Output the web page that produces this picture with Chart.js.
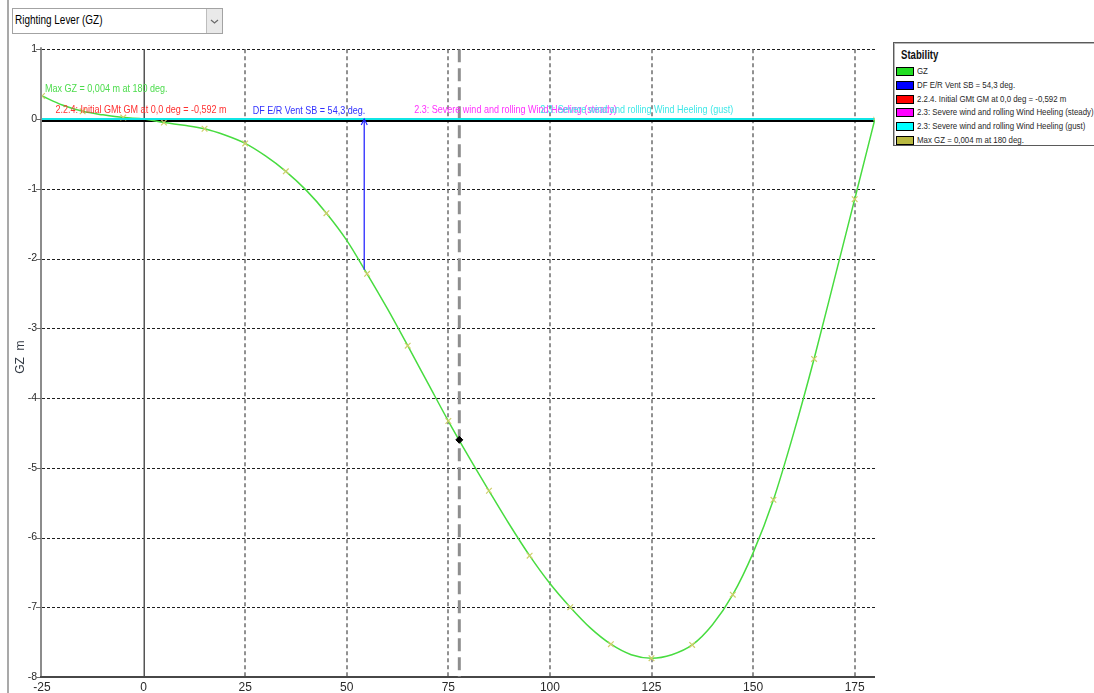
<!DOCTYPE html>
<html>
<head>
<meta charset="utf-8">
<title>Righting Lever (GZ)</title>
<script src="https://cdn.jsdelivr.net/npm/chart.js@4.4.0/dist/chart.umd.min.js"></script>
<style>
  html, body { margin: 0; padding: 0; background: #fff; width: 1094px; height: 693px; overflow: hidden; }
  #wrap { position: relative; width: 1094px; height: 693px; }
  #frame { position: absolute; left: 7px; top: 0; width: 2px; height: 693px; background: #a9a9a9; }
  #combo { position: absolute; left: 12px; top: 8px; width: 209px; height: 24px; border: 1px solid #a3a3a3; background: #fff; }
  #combo .txt { position: absolute; left: 2px; top: 4px; font: 12px 'Liberation Sans', Arial, sans-serif; color: #000;
                transform: scaleX(0.83); transform-origin: 0 0; white-space: nowrap; }
  #combo .btn { position: absolute; right: 0; top: 0; width: 15px; height: 24px; background: #e9e9e9; border-left: 1px solid #bdbdbd; }
  #combo .btn svg { position: absolute; left: 0; top: 4px; }
  canvas#chart { position: absolute; left: 0; top: 0; }
  #legend { position: absolute; left: 893px; top: 42px; width: 215px; height: 102px; border: 1px solid #5a5a5a;
            box-shadow: inset 1px 1px 0 #b5b5b5; background: #fff; overflow: hidden; }
  #legend .title { position: absolute; left: 7px; top: 5px; font: bold 12px 'Liberation Sans', Arial, sans-serif; color: #111;
                   transform: scaleX(0.8); transform-origin: 0 0; white-space: nowrap; }
  #legend .row { position: absolute; left: 2px; height: 12px; white-space: nowrap; }
  #legend .sw { position: absolute; left: 0; top: 2px; width: 16px; height: 7px; border: 1px solid #000; }
  #legend .lab { position: absolute; left: 21px; top: 0; font: 9.6px 'Liberation Sans', Arial, sans-serif; color: #262626;
                 transform: scaleX(0.82); transform-origin: 0 0; line-height: 12px; }
</style>
</head>
<body>
<div id="wrap">
  <div id="frame"></div>
  <div id="combo">
    <span class="txt">Righting Lever (GZ)</span>
    <div class="btn"><svg width="15" height="16" viewBox="0 0 15 16"><polyline points="4,7 7.5,10 11,7" fill="none" stroke="#6a6a6a" stroke-width="1.2"/></svg></div>
  </div>
  <canvas id="chart" width="1094" height="693"></canvas>
  <div id="legend"><div class="title">Stability</div></div>
</div>
<script>
// Heel angles (deg) and righting lever GZ (m)
const gzAngles = [-25, -20, -15, -10, -5, 0, 5, 10, 15, 20, 25, 30, 35, 40, 45, 50, 55, 60, 65, 70,
                  75, 80, 85, 90, 95, 100, 105, 110, 115, 120, 125, 130, 135, 140, 145, 150, 155, 160,
                  165, 170, 175, 180];
const gzValues = [0.33, 0.20, 0.11, 0.06, 0.02, 0, -0.05, -0.09, -0.14, -0.23, -0.35, -0.53, -0.75, -1.02,
                  -1.35, -1.74, -2.22, -2.72, -3.25, -3.79, -4.33, -4.84, -5.33, -5.81, -6.26, -6.66,
                  -7.00, -7.30, -7.53, -7.68, -7.73, -7.68, -7.54, -7.25, -6.82, -6.22, -5.46, -4.50,
                  -3.44, -2.30, -1.15, 0.004];

// Downflooding point (DF E/R Vent SB)
const ventAngle = 54.3;
const ventGz = -2.16;

// Equilibrium / reference heel marker
const refAngle = 77.7;
const refGz = -4.60;

// Wind heeling levers (steady and gust), both zero over the range
const heelAngles = [-25, 180];
const heelSteady = [0, 0];
const heelGust = [0, 0];

// Max GZ point
const maxGzAngle = 180;
const maxGz = 0.004;

// Axes
const xMin = -25, xMax = 180;
const yMin = -8, yMax = 1;
const xTickValues = [-25, 0, 25, 50, 75, 100, 125, 150, 175];
const xTickLabels = ['-25', '0', '25', '50', '75', '100', '125', '150', '175'];
const yTickValues = [1, 0, -1, -2, -3, -4, -5, -6, -7, -8];
const yTickLabels = ['1', '0', '-1', '-2', '-3', '-4', '-5', '-6', '-7', '-8'];

// Legend entries
const legendLabels = ['GZ', 'DF E/R Vent SB = 54,3 deg.', '2.2.4. Initial GMt GM at 0,0 deg = -0,592 m',
                      '2.3: Severe wind and rolling Wind Heeling (steady)',
                      '2.3: Severe wind and rolling Wind Heeling (gust)', 'Max GZ = 0,004 m at 180 deg.'];
const legendColors = ['#22dd22', '#0000ff', '#ff0000', '#ff00ff', '#00ffff', '#b8b840'];

const pts = (xs, ys) => xs.map((v, i) => ({ x: v, y: ys[i] }));
const LABEL_FONT = "11px 'Liberation Sans', Arial, sans-serif";

function narrowText(ctx, text, x, y, align, color, font, squeeze) {
  ctx.save();
  ctx.translate(x, y);
  ctx.scale(squeeze, 1);
  ctx.font = font;
  ctx.fillStyle = color;
  ctx.textAlign = align;
  ctx.textBaseline = 'middle';
  ctx.fillText(text, 0, 0);
  ctx.restore();
}

const frameLines = {
  id: 'frameLines',
  beforeDatasetsDraw(chart) {
    const { ctx, chartArea: a, scales: { x, y } } = chart;
    const seg = (x1, y1, x2, y2) => { ctx.beginPath(); ctx.moveTo(x1, y1); ctx.lineTo(x2, y2); ctx.stroke(); };
    ctx.save();
    // horizontal dotted grid
    ctx.setLineDash([3, 2]);
    ctx.strokeStyle = '#1e1e1e';
    ctx.lineWidth = 1;
    yTickValues.forEach(v => {
      if (v === yMin || v === 0) return;
      const py = Math.round(y.getPixelForValue(v)) + 0.5;
      seg(a.left, py, a.right, py);
    });
    // vertical dashed grid
    ctx.setLineDash([4, 3]);
    ctx.strokeStyle = '#6e6e6e';
    ctx.lineWidth = 1.5;
    xTickValues.forEach(v => {
      if (v <= 0) return;
      const px = Math.round(x.getPixelForValue(v));
      seg(px, a.top, px, a.bottom);
    });
    ctx.setLineDash([]);
    // zero heel line
    ctx.strokeStyle = '#555';
    ctx.lineWidth = 1.5;
    const x0 = Math.round(x.getPixelForValue(0)) + 0.25;
    seg(x0, a.top, x0, a.bottom);
    // left axis line and tick marks
    ctx.strokeStyle = '#8c8c8c';
    ctx.lineWidth = 2;
    seg(a.left - 1, a.top - 2, a.left - 1, a.bottom);
    ctx.strokeStyle = '#6a6a6a';
    ctx.lineWidth = 1;
    yTickValues.forEach(v => {
      const py = Math.round(y.getPixelForValue(v)) + 0.5;
      seg(a.left - 6, py, a.left - 1, py);
    });
    // bottom axis line
    ctx.strokeStyle = '#474747';
    ctx.lineWidth = 2;
    seg(a.left - 2, a.bottom, a.right, a.bottom);
    // zero GZ line, just below the heeling levers
    ctx.strokeStyle = '#000';
    ctx.lineWidth = 2;
    const y0 = Math.round(y.getPixelForValue(0)) + 2;
    seg(a.left, y0, a.right, y0);
    ctx.restore();
  },
  afterDatasetsDraw(chart) {
    const { ctx, chartArea: a, scales: { x, y } } = chart;
    const y0 = y.getPixelForValue(0);
    ctx.save();
    // arrow head on the downflooding lever
    const ax = x.getPixelForValue(ventAngle);
    ctx.strokeStyle = '#2626ff';
    ctx.lineWidth = 1.2;
    ctx.beginPath();
    ctx.moveTo(ax - 3, y0 + 6);
    ctx.lineTo(ax, y0);
    ctx.lineTo(ax + 3, y0 + 6);
    ctx.stroke();
    ctx.restore();

    // annotation texts
    narrowText(ctx, 'Max GZ = 0,004 m at 180 deg.', x.getPixelForValue(xMin) + 3, y0 - 30, 'left', '#4cdc4c', LABEL_FONT, 0.82);
    narrowText(ctx, '2.2.4: Initial GMt GM at 0,0 deg = -0,592 m', x.getPixelForValue(-21.7), y0 - 9, 'left', '#ff3030', LABEL_FONT, 0.82);
    narrowText(ctx, 'DF E/R Vent SB = 54,3 deg.', ax + 1, y0 - 8, 'right', '#3030ff', LABEL_FONT, 0.82);
    narrowText(ctx, '2.3: Severe wind and rolling Wind Heeling (steady)', x.getPixelForValue(66.6), y0 - 9.5, 'left', '#ff30ff', LABEL_FONT, 0.82);
    narrowText(ctx, '2.3: Severe wind and rolling Wind Heeling (gust)', x.getPixelForValue(97.6), y0 - 9.5, 'left', '#3ee8e8', LABEL_FONT, 0.82);

    // y-axis title
    ctx.save();
    ctx.translate(21, (a.top + a.bottom) / 2 - 6);
    ctx.rotate(-Math.PI / 2);
    ctx.font = "12px 'Liberation Sans', Arial, sans-serif";
    ctx.fillStyle = '#333a44';
    ctx.textAlign = 'center';
    ctx.textBaseline = 'middle';
    ctx.fillText('GZ  m', 0, 0);
    ctx.restore();
  }
};

const chart = new Chart(document.getElementById('chart'), {
  type: 'scatter',
  data: {
    datasets: [
      {
        label: legendLabels[0],
        data: pts(gzAngles, gzValues),
        showLine: true,
        borderColor: '#48dc40',
        borderWidth: 1.5,
        cubicInterpolationMode: 'monotone',
        pointStyle: 'crossRot',
        pointRadius: ctx => (ctx.raw && ctx.raw.x % 10 !== 0 ? 4 : 0),
        pointBorderColor: '#cfcf6a',
        pointBackgroundColor: '#cfcf6a',
        pointBorderWidth: 1.2,
        order: 4
      },
      {
        label: legendLabels[1],
        data: pts([ventAngle, ventAngle], [ventGz, 0]),
        showLine: true,
        borderColor: '#2a2aff',
        borderWidth: 1.3,
        pointRadius: 0,
        order: 1
      },
      {
        label: legendLabels[2],
        data: [],
        borderColor: '#ff0000',
        order: 7
      },
      {
        label: legendLabels[3],
        data: pts(heelAngles, heelSteady),
        showLine: true,
        borderColor: '#ff00ff',
        borderWidth: 2,
        pointRadius: 0,
        order: 3
      },
      {
        label: legendLabels[4],
        data: pts(heelAngles, heelGust),
        showLine: true,
        borderColor: '#10e6e6',
        borderWidth: 2,
        pointRadius: 0,
        order: 2
      },
      {
        label: legendLabels[5],
        data: pts([maxGzAngle], [maxGz]),
        pointStyle: 'crossRot',
        pointRadius: 2.5,
        pointBorderColor: '#cfcf6a',
        pointBorderWidth: 1,
        order: 0
      },
      {
        data: pts([refAngle, refAngle], [yMax, yMin]),
        showLine: true,
        borderColor: '#8e8e8e',
        borderWidth: 3,
        borderDash: [13, 6],
        pointRadius: 0,
        order: 8
      },
      {
        data: pts([refAngle], [refGz]),
        pointStyle: 'rectRot',
        pointRadius: 3.5,
        pointBackgroundColor: '#000',
        pointBorderColor: '#000',
        order: 0
      }
    ]
  },
  options: {
    responsive: false,
    animation: false,
    events: [],
    layout: { padding: { top: 49.25, right: 219, left: 0, bottom: 0 } },
    plugins: { legend: { display: false }, tooltip: { enabled: false } },
    scales: {
      x: {
        type: 'linear',
        min: xMin,
        max: xMax,
        grid: { display: false, drawTicks: false },
        border: { display: false },
        afterBuildTicks: s => { s.ticks = xTickValues.map(v => ({ value: v })); },
        afterFit: s => { s.height = 16; },
        ticks: {
          padding: 3,
          autoSkip: false,
          maxRotation: 0,
          color: '#2a2a2a',
          font: { family: "'Liberation Sans', Arial, sans-serif", size: 12 },
          callback: v => xTickLabels[xTickValues.indexOf(v)]
        }
      },
      y: {
        type: 'linear',
        min: yMin,
        max: yMax,
        grid: { display: false, drawTicks: false },
        border: { display: false },
        afterBuildTicks: s => { s.ticks = yTickValues.map(v => ({ value: v })); },
        afterFit: s => { s.width = 42; },
        ticks: {
          padding: 5,
          autoSkip: false,
          color: '#2a2a2a',
          font: { family: "'Liberation Sans', Arial, sans-serif", size: 10.5 },
          callback: v => yTickLabels[yTickValues.indexOf(v)]
        }
      }
    }
  },
  plugins: [frameLines]
});

// legend panel built from the datasets
const legendEl = document.getElementById('legend');
chart.data.datasets.filter(d => d.label).forEach((d, i) => {
  const row = document.createElement('div');
  row.className = 'row';
  row.style.top = (22 + i * 13.8) + 'px';
  const sw = document.createElement('span');
  sw.className = 'sw';
  sw.style.background = legendColors[legendLabels.indexOf(d.label)];
  const lab = document.createElement('span');
  lab.className = 'lab';
  lab.textContent = d.label;
  row.appendChild(sw);
  row.appendChild(lab);
  legendEl.appendChild(row);
});
</script>
</body>
</html>
